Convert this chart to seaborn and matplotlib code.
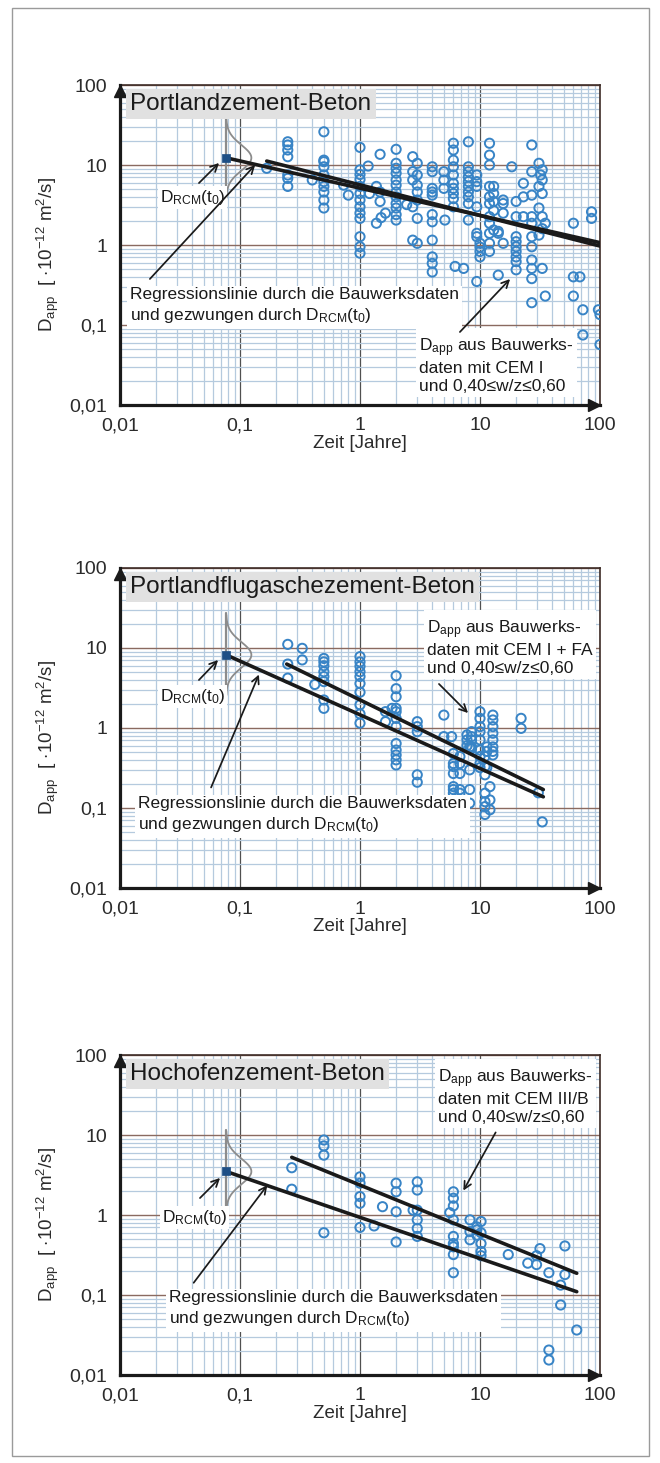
import numpy as np
import matplotlib
matplotlib.use("Agg")
import matplotlib.pyplot as plt
import seaborn as sns
from matplotlib.ticker import FixedLocator, FuncFormatter, LogLocator
from matplotlib.patches import Rectangle, FancyArrowPatch

sns.set_theme(style="white")
plt.rcParams["font.family"] = ["Liberation Sans", "DejaVu Sans"]
plt.rcParams["mathtext.fontset"] = "custom"
plt.rcParams["mathtext.rm"] = "Liberation Sans"
plt.rcParams["mathtext.it"] = "Liberation Sans:italic"
plt.rcParams["mathtext.bf"] = "Liberation Sans:bold"

# ---------------------------------------------------------------- data
# age t0 of the RCM test (28 days) in years
t0 = 0.0767

# Portlandzement-Beton (CEM I)
pz_t = [0.167,
        0.25, 0.25, 0.25, 0.25, 0.25, 0.25, 0.25,
        0.4,
        0.5, 0.5, 0.5, 0.5, 0.5, 0.5, 0.5, 0.5, 0.5, 0.5,
        0.73, 0.8,
        1, 1, 1, 1, 1, 1, 1, 1, 1, 1, 1, 1, 1,
        1.17, 1.2, 1.37, 1.47, 1.47, 1.47, 1.37, 1.5, 1.63,
        2, 2, 2, 2, 2, 2, 2, 2, 2, 2, 2, 2,
        2.45,
        2.75, 2.75, 2.75, 2.75, 2.75,
        3, 3, 3, 3, 3, 3, 3,
        4, 4, 4, 4, 4, 4, 4, 4, 4, 4, 4,
        5, 5, 5, 5.1,
        6, 6, 6, 6, 6, 6, 6, 6, 6, 6,
        6.2, 7.3,
        8, 8, 8, 8, 8, 8, 8, 8, 8, 8,
        9.4, 9.4, 9.4, 9.4, 9.4, 9.4, 9.4,
        10, 10, 10, 10,
        12, 12, 12, 12, 12, 12, 12, 12, 12, 12, 12,
        13, 13, 13, 13, 13,
        14.2, 14.2, 14.2,
        15.6, 15.6, 15.6, 15.6,
        18.4,
        20, 20, 20, 20, 20, 20, 20, 20, 20,
        23, 23, 23,
        27, 27, 27, 27, 27, 27, 27, 27, 27, 27, 27,
        31, 33, 32, 33, 31, 33, 31, 33, 35, 33, 31, 33, 35,
        60, 60, 60, 68, 72, 72, 85, 85, 97, 100, 100]
pz_D = [9.1,
        19.5, 17.8, 15.4, 12.7, 7.5, 6.8, 5.4,
        6.5,
        26, 11.5, 11, 9.5, 7.5, 6.2, 5.4, 4.6, 3.65, 2.9,
        5.6, 4.2,
        16.6, 8.7, 7.6, 6.6, 5.4, 4.4, 3.65, 3.0, 2.5, 2.15, 1.27, 0.95, 0.79,
        9.7, 4.4, 5.4, 13.6, 4.6, 3.5, 1.87, 2.2, 2.5,
        15.7, 10.5, 9.1, 7.9, 6.5, 5.6, 4.6, 4.0, 3.3, 2.9, 2.4, 2.05,
        3.2,
        12.7, 8.25, 6.5, 3.0, 1.15,
        10.5, 7.5, 5.6, 4.6, 3.65, 2.15, 1.05,
        9.5, 8.25, 5.1, 4.6, 4.2, 2.4, 1.95, 1.15, 0.71, 0.59, 0.46,
        8.25, 6.5, 5.1, 2.05,
        18.7, 15.4, 11.5, 9.5, 7.5, 5.9, 5.1, 4.4, 3.8, 3.0,
        0.54, 0.51,
        19.5, 9.5, 8.25, 7.1, 6.2, 5.4, 4.6, 4.0, 3.3, 2.05,
        7.5, 6.2, 5.4, 3.0, 1.4, 1.27, 0.35,
        1.05, 0.94, 0.83, 0.71,
        18.7, 13.3, 10, 5.4, 4.0, 3.3, 2.26, 1.87, 1.4, 1.05, 0.83,
        5.4, 4.4, 3.5, 2.7, 1.54,
        1.48, 1.4, 0.42,
        3.65, 3.3, 2.5, 1.05,
        9.5,
        3.5, 2.26, 1.27, 1.1, 0.95, 0.83, 0.71, 0.62, 0.49,
        5.9, 4.0, 2.26,
        17.8, 8.25, 4.2, 2.26, 1.87, 1.27, 0.95, 0.65, 0.51, 0.38, 0.19,
        10.5, 8.7, 7.5, 6.5, 5.4, 4.4, 2.9, 2.26, 1.87, 1.6, 1.33, 0.51, 0.23,
        1.87, 0.40, 0.23, 0.40, 0.155, 0.075, 2.6, 2.15, 0.155, 0.135, 0.057]

# Portlandflugaschezement-Beton (CEM I + FA)
fa_t = [0.25, 0.25, 0.25, 0.33, 0.33, 0.42,
        0.5, 0.5, 0.5, 0.5, 0.5, 0.5, 0.5, 0.5,
        1, 1, 1, 1, 1, 1, 1, 1, 1, 1,
        1.63, 1.63, 1.85,
        2, 2, 2, 2, 2, 2, 2, 2, 2, 2, 2, 2,
        3, 3, 3, 3, 3,
        5, 5, 5.8,
        6, 6, 6, 6, 6, 6, 6, 6, 6,
        6.8, 6.8, 6.8, 6.8, 6.8, 6.8,
        7.8, 7.8, 7.8,
        8.5, 8.5, 8.5, 8.5, 8.5,
        8.2, 8.2, 8.2, 8.2,
        10, 10, 10, 10, 10, 10, 10, 10, 10,
        11, 11, 11, 11, 11, 11, 11,
        11.4, 11.4, 11.4,
        12.1, 12.1, 12.1,
        12.8, 12.8, 12.8, 12.8, 12.8, 12.8, 12.8, 12.8,
        22, 22, 30.6, 33]
fa_D = [11.1, 6.3, 4.2, 9.9, 7.1, 3.5,
        7.4, 6.7, 6.0, 5.05, 4.4, 3.8, 2.24, 1.76,
        7.8, 6.7, 5.9, 5.05, 4.4, 3.6, 2.8, 1.95, 1.5, 1.15,
        1.6, 1.2, 1.76,
        4.5, 3.1, 2.46, 1.76, 1.6, 1.32, 1.04, 0.64, 0.53, 0.46, 0.40, 0.345,
        1.2, 1.04, 0.9, 0.26, 0.21,
        1.45, 0.78, 0.78,
        0.48, 0.36, 0.33, 0.27, 0.185, 0.17, 0.153, 0.115, 0.086,
        0.44, 0.36, 0.27, 0.17, 0.153, 0.115,
        0.82, 0.71, 0.6,
        0.9, 0.78, 0.71, 0.58, 0.55,
        0.58, 0.30, 0.17, 0.115,
        1.6, 1.32, 1.04, 0.9, 0.71, 0.53, 0.44, 0.36, 0.32,
        0.44, 0.33, 0.26, 0.153, 0.12, 0.104, 0.083,
        0.58, 0.51, 0.32,
        0.185, 0.126, 0.095,
        1.45, 1.26, 1.04, 0.86, 0.71, 0.58, 0.51, 0.46,
        1.32, 0.99, 0.155, 0.067]

# Hochofenzement-Beton (CEM III/B)
hz_t = [0.27, 0.27,
        0.5, 0.5, 0.5, 0.5,
        1, 1, 1, 1, 1,
        1.31, 1.54,
        2, 2, 2, 2,
        2.77,
        3, 3, 3, 3, 3, 3,
        5.6,
        6, 6, 6, 6, 6, 6, 6, 6, 6,
        8.25, 8.25, 8.25,
        9.4, 9.4, 9.4,
        10.2, 10.2, 10.2, 10.2, 10.2,
        17.2, 25, 29.6, 29.6, 31.6,
        37.5, 37.5, 37.5, 47, 47, 51, 51, 64]
hz_D = [3.9, 2.1,
        8.66, 7.3, 5.6, 0.6,
        3.0, 2.5, 1.7, 1.4, 0.7,
        0.73, 1.27,
        2.5, 1.95, 1.1, 0.46,
        1.15,
        2.6, 2.05, 1.15, 0.87, 0.68, 0.54,
        1.07,
        1.95, 1.62, 1.3, 0.87, 0.54, 0.44, 0.40, 0.32, 0.19,
        0.87, 0.62, 0.49,
        0.71, 0.65, 0.56,
        0.83, 0.6, 0.44, 0.35, 0.31,
        0.32, 0.25, 0.31, 0.24, 0.38,
        0.19, 0.0205, 0.0154, 0.133, 0.075, 0.41, 0.18, 0.0365]

# D_RCM(t0) per concrete type
drcm = [12.3, 8.2, 3.5]

# regression lines: start/end ages and values
forced_t = [[0.0767, 100], [0.0767, 33.7], [0.0767, 64]]
forced_D = [[12.3, 1.07], [8.2, 0.138], [3.5, 0.11]]
free_t = [[0.167, 100], [0.245, 33.7], [0.27, 64]]
free_D = [[11.2, 0.97], [6.3, 0.17], [5.26, 0.187]]

titles = ["Portlandzement-Beton", "Portlandflugaschezement-Beton",
          "Hochofenzement-Beton"]
cem_text = ["CEM I", "CEM I + FA", "CEM III/B"]
tick_vals = [0.01, 0.1, 1, 10, 100]

# ---------------------------------------------------------------- style
W, H = 660, 1463
BLUE = "#3884c6"
TXT = "#1a1a1a"
fig = plt.figure(figsize=(W / 100, H / 100), dpi=100)
fig.patch.set_facecolor("white")
fig.patches.append(Rectangle((12 / W, 1 - 1456 / H), 637 / W, 1448 / H,
                             transform=fig.transFigure, fill=False,
                             ec="#9a9a9a", lw=1.0))


def fpx(x, y):
    return (x, H - y)


def ffrac(x, y):
    return (x / W, 1 - y / H)


def arrow(tail, tip):
    fig.add_artist(FancyArrowPatch(
        fpx(*tail), fpx(*tip), transform=None, arrowstyle="->",
        mutation_scale=13, color="k", lw=1.25, zorder=20))


tops = [85, 568, 1055]
fmt = FuncFormatter(lambda v, p: f"{v:g}".replace(".", ","))

# text layout per panel (pixel positions)
drcm_lbl = [(160, 202), (160, 701), (162, 1222)]
drcm_arrow = [((197, 185), (221, 161)), ((197, 682), (220, 658)),
              ((198, 1200), (222, 1176))]
reg_lbl = [(130, 287), (138, 796), (169, 1290)]
reg_arrow = [((148, 281), (257, 163)), ((210, 790), (260, 672)),
             ((192, 1285), (269, 1183))]
app_lbl = [(419, 336), (427, 618), (438, 1067)]
app_arrow = [((458, 334), (512, 277)), ((437, 682), (470, 715)),
             ((497, 1130), (462, 1193))]

data = [(pz_t, pz_D), (fa_t, fa_D), (hz_t, hz_D)]

for i in range(3):
    top = tops[i]
    ax = fig.add_axes([120 / W, 1 - (top + 320) / H, 480 / W, 320 / H])
    ax.set_xscale("log")
    ax.set_yscale("log")
    ax.set_xlim(0.01, 100)
    ax.set_ylim(0.01, 100)
    ax.set_facecolor("white")
    ax.set_axisbelow(True)

    for axis in (ax.xaxis, ax.yaxis):
        axis.set_major_locator(FixedLocator(tick_vals))
        axis.set_major_formatter(fmt)
        axis.set_minor_locator(LogLocator(base=10, subs=np.arange(2, 10)))
    ax.grid(True, which="minor", color="#b5cade", lw=0.9)
    ax.grid(True, which="major", axis="x", color="#505050", lw=0.9)
    ax.grid(True, which="major", axis="y", color="#8a6a60", lw=1.0)
    ax.tick_params(which="major", direction="out", length=6, width=1.8,
                   color="k", labelsize=14, labelcolor="#2b2b2b", pad=3)
    ax.tick_params(which="minor", length=0)
    for s in ("left", "bottom"):
        ax.spines[s].set_linewidth(2.3)
        ax.spines[s].set_color("k")
    for s in ("top", "right"):
        ax.spines[s].set_linewidth(1.2)
        ax.spines[s].set_color("#3d2b26")
        ax.spines[s].set_zorder(1)

    # axis arrow heads
    ax.plot([0], [1 - 6 / 320], marker="^", ms=9, color="k",
            transform=ax.transAxes, clip_on=False, zorder=10)
    ax.plot([1 - 6 / 480], [0], marker=">", ms=9, color="k",
            transform=ax.transAxes, clip_on=False, zorder=10)

    ax.set_xlabel("Zeit [Jahre]", fontsize=13.5, color="#2b2b2b")
    ax.xaxis.set_label_coords(0.5, -0.093)
    ax.set_ylabel(r"D$_\mathrm{app}$  [ $\mathrm{\cdot 10^{-12}\ m^2/s}$]",
                  fontsize=13.5, color="#2b2b2b")
    ax.yaxis.set_label_coords(-0.122, 0.47)

    # measured data
    t, D = data[i]
    sns.scatterplot(x=t, y=D, ax=ax, color=BLUE, facecolor="none",
                    edgecolor=BLUE, s=44, linewidth=1.4, zorder=3,
                    legend=False)

    # D_RCM(t0) with its scatter band
    d0 = drcm[i]
    ld = np.linspace(-0.5, 0.5, 200)
    bell_t = t0 * 10 ** (0.21 * np.exp(-0.5 * (ld / 0.16) ** 2))
    ax.plot(bell_t, d0 * 10 ** ld, color="#8c8c8c", lw=1.3, zorder=4)
    ax.plot([t0, t0], [d0 * 10 ** 0.52, d0 * 10 ** -0.52],
            color="#8c8c8c", lw=1.6, zorder=4)
    sns.scatterplot(x=[t0], y=[d0], ax=ax, color="#1d4f86", marker="s",
                    s=40, edgecolor="#1d4f86", zorder=6, legend=False)

    # regression lines
    sns.lineplot(x=forced_t[i], y=forced_D[i], ax=ax, color="k", lw=2.6,
                 zorder=5, legend=False)
    sns.lineplot(x=free_t[i], y=free_D[i], ax=ax, color="k", lw=2.6,
                 zorder=5, legend=False)

    # panel title
    fig.text(*ffrac(130, top + 19), titles[i], fontsize=17.5, color=TXT,
             va="center", ha="left",
             bbox=dict(boxstyle="square,pad=0.18", fc="#e1e1e1", ec="none"),
             zorder=15)

    # labels
    x, y = drcm_lbl[i]
    fig.text(*ffrac(x, y), r"D$_\mathrm{RCM}$(t$_0$)", fontsize=12.5,
             color=TXT, va="baseline", ha="left", zorder=15,
             bbox=dict(boxstyle="square,pad=0.1", fc="white", ec="none"))
    arrow(*drcm_arrow[i])

    x, y = reg_lbl[i]
    fig.text(*ffrac(x, y),
             "Regressionslinie durch die Bauwerksdaten\n"
             r"und gezwungen durch D$_\mathrm{RCM}$(t$_0$)",
             fontsize=12.5, color=TXT, va="top", ha="left", zorder=15,
             linespacing=1.3,
             bbox=dict(boxstyle="square,pad=0.2", fc="white", ec="none"))
    arrow(*reg_arrow[i])

    x, y = app_lbl[i]
    fig.text(*ffrac(x, y),
             r"D$_\mathrm{app}$ aus Bauwerks-" + "\n"
             f"daten mit {cem_text[i]}\n"
             "und 0,40≤w/z≤0,60",
             fontsize=12.5, color=TXT, va="top", ha="left", zorder=15,
             linespacing=1.22,
             bbox=dict(boxstyle="square,pad=0.2", fc="white", ec="none"))
    arrow(*app_arrow[i])

fig.savefig("out.png", dpi=100, facecolor="white")
